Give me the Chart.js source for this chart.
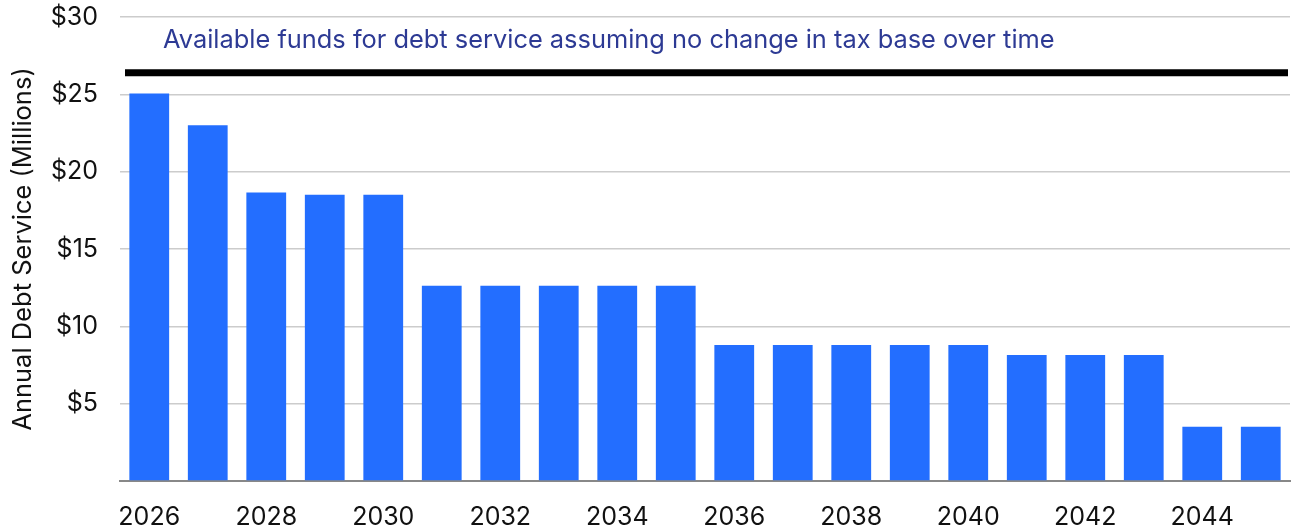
<!DOCTYPE html>
<html>
<head>
<meta charset="utf-8">
<script src="https://cdn.jsdelivr.net/npm/chart.js@4.4.1/dist/chart.umd.min.js"></script>
<style>
    html, body { margin: 0; padding: 0; background: #fff; }
    #wrap { width: 1294px; height: 527px; position: relative; }
</style>
</head>
<body>
<div id="wrap"><canvas id="debtChart"></canvas></div>
<script>
// --- Data ---
const years = ['2026', '2027', '2028', '2029', '2030', '2031', '2032', '2033', '2034', '2035',
               '2036', '2037', '2038', '2039', '2040', '2041', '2042', '2043', '2044', '2045'];
const debtService = [25.05, 23.0, 18.65, 18.5, 18.5, 12.62, 12.62, 12.62, 12.62, 12.62,
                     8.8, 8.8, 8.8, 8.8, 8.8, 8.15, 8.15, 8.15, 3.5, 3.5];
const yTicks = [0, 5, 10, 15, 20, 25, 30];
const availableFunds = 26.4;
const noteText = 'Available funds for debt service assuming no change in tax base over time';
const noteLevel = 28.5;

const FONT = 'Inter, "Liberation Sans", Arial, sans-serif';

// Black "available funds" line + note, drawn on the chart's own scales
const fundsLine = {
    id: 'fundsLine',
    afterDatasetsDraw(chart) {
        const { ctx, chartArea, scales } = chart;
        const y = scales.y.getPixelForValue(availableFunds);
        ctx.save();
        ctx.strokeStyle = '#000';
        ctx.lineWidth = 7;
        ctx.beginPath();
        ctx.moveTo(chartArea.left + 5, y);
        ctx.lineTo(chartArea.right - 2, y);
        ctx.stroke();

        ctx.fillStyle = '#2d3a94';
        ctx.font = '25.4px ' + FONT;
        ctx.textBaseline = 'middle';
        ctx.textAlign = 'left';
        ctx.fillText(noteText, chartArea.left + 43, scales.y.getPixelForValue(noteLevel));
        ctx.restore();
    }
};

const myChart = new Chart(document.getElementById('debtChart'), {
    type: 'bar',
    data: {
        labels: years,
        datasets: [{
            data: debtService,
            backgroundColor: '#236eff',
            categoryPercentage: 1,
            barPercentage: 0.68
        }]
    },
    options: {
        responsive: true,
        maintainAspectRatio: false,
        animation: false,
        layout: { padding: { top: 0, right: 4, left: 0, bottom: 0 } },
        plugins: { legend: { display: false }, tooltip: { enabled: false } },
        scales: {
            x: {
                grid: { display: false, drawTicks: false },
                border: { color: '#888', width: 2 },
                ticks: {
                    autoSkip: false,
                    maxRotation: 0,
                    padding: 21,
                    color: '#111',
                    font: { family: FONT, size: 25 },
                    callback: (v, i) => (i % 2 === 0 ? years[i] : '')
                },
                afterFit: (scale) => { scale.height = 46; }
            },
            y: {
                min: 0,
                max: 30,
                afterBuildTicks: (scale) => { scale.ticks = yTicks.map(v => ({ value: v })); },
                grid: {
                    drawTicks: false,
                    color: (c) => (c.tick && c.tick.value === 0 ? 'rgba(0,0,0,0)' : '#cccccc'),
                    lineWidth: 1.5
                },
                border: { display: false },
                ticks: {
                    padding: 22,
                    color: '#111',
                    font: { family: FONT, size: 25 },
                    callback: (v) => (v === 0 ? '' : '$' + v)
                },
                title: {
                    display: true,
                    text: 'Annual Debt Service (Millions)',
                    color: '#111',
                    font: { family: FONT, size: 25.5 },
                    padding: { top: 8, bottom: 0 }
                },
                afterFit: (scale) => {
                    scale.width = 120;
                    scale.paddingTop = 17;
                    scale.paddingBottom = 0;
                }
            }
        }
    },
    plugins: [fundsLine]
});
</script>
</body>
</html>
